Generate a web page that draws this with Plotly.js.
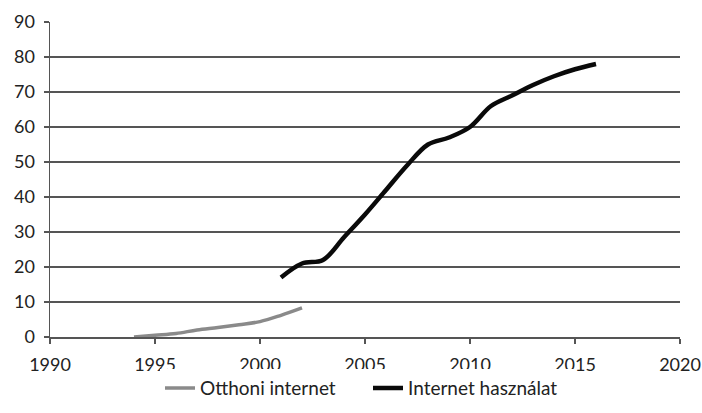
<!DOCTYPE html>
<html>
<head>
<meta charset="utf-8">
<script src="https://cdn.plot.ly/plotly-3.0.1.min.js"></script>
<style>html,body{margin:0;padding:0;background:#fff;}#chart{width:702px;height:413px;}</style>
</head>
<body>
<div id="chart"></div>
<script>
var homeYears = [1994, 1995, 1996, 1997, 1998, 1999, 2000, 2001, 2002];
var homeValues = [0, 0.5, 1, 2, 2.7, 3.5, 4.4, 6.2, 8.3];
var useYears = [2001, 2002, 2003, 2004, 2005, 2006, 2007, 2008, 2009, 2010, 2011, 2012, 2013, 2014, 2015, 2016];
var useValues = [17, 21, 22, 28.5, 35, 42, 49, 55, 57, 60, 66, 69, 72, 74.5, 76.5, 78];
var homeName = 'Otthoni internet';
var useName = 'Internet használat';

var font = {family: 'Lato, "Open Sans", sans-serif', size: 18, color: '#222'};
var legendFont = {family: 'Lato, "Open Sans", sans-serif', size: 19, color: '#222'};
var traces = [
  {x: homeYears, y: homeValues, name: homeName, mode: 'lines',
   line: {color: '#8a8a8a', width: 3.5, shape: 'spline'}},
  {x: useYears, y: useValues, name: useName, mode: 'lines',
   line: {color: '#0a0a0a', width: 4.5, shape: 'spline'}}
];
var layout = {
  width: 702, height: 413,
  margin: {l: 50, r: 22, t: 22, b: 76, autoexpand: false},
  paper_bgcolor: '#fff', plot_bgcolor: '#fff',
  font: font,
  showlegend: true,
  legend: {orientation: 'h', xref: 'container', yref: 'container',
           x: 160 / 702, xanchor: 'left', y: 0.06, yanchor: 'middle',
           font: legendFont, traceorder: 'normal', itemwidth: 30,
           entrywidth: 163, entrywidthmode: 'pixels'},
  xaxis: {range: [1990, 2020], dtick: 5, tick0: 1990, showgrid: false, zeroline: false,
          showline: true, linecolor: '#555', linewidth: 1.5,
          ticks: 'outside', ticklen: 5, tickcolor: '#555', tickwidth: 1.5,
          ticklabelstandoff: 6,
          tickfont: font, fixedrange: true, automargin: false},
  yaxis: {range: [0, 90], dtick: 10, showgrid: true, gridcolor: '#555', gridwidth: 1.5,
          zeroline: false, showline: true, linecolor: '#555', linewidth: 1.5,
          ticks: 'outside', ticklen: 5, tickcolor: '#555', tickwidth: 1.5,
          ticklabelstandoff: 5,
          tickfont: font, fixedrange: true, automargin: false}
};
Plotly.newPlot('chart', traces, layout, {displayModeBar: false, staticPlot: true});
</script>
</body>
</html>
